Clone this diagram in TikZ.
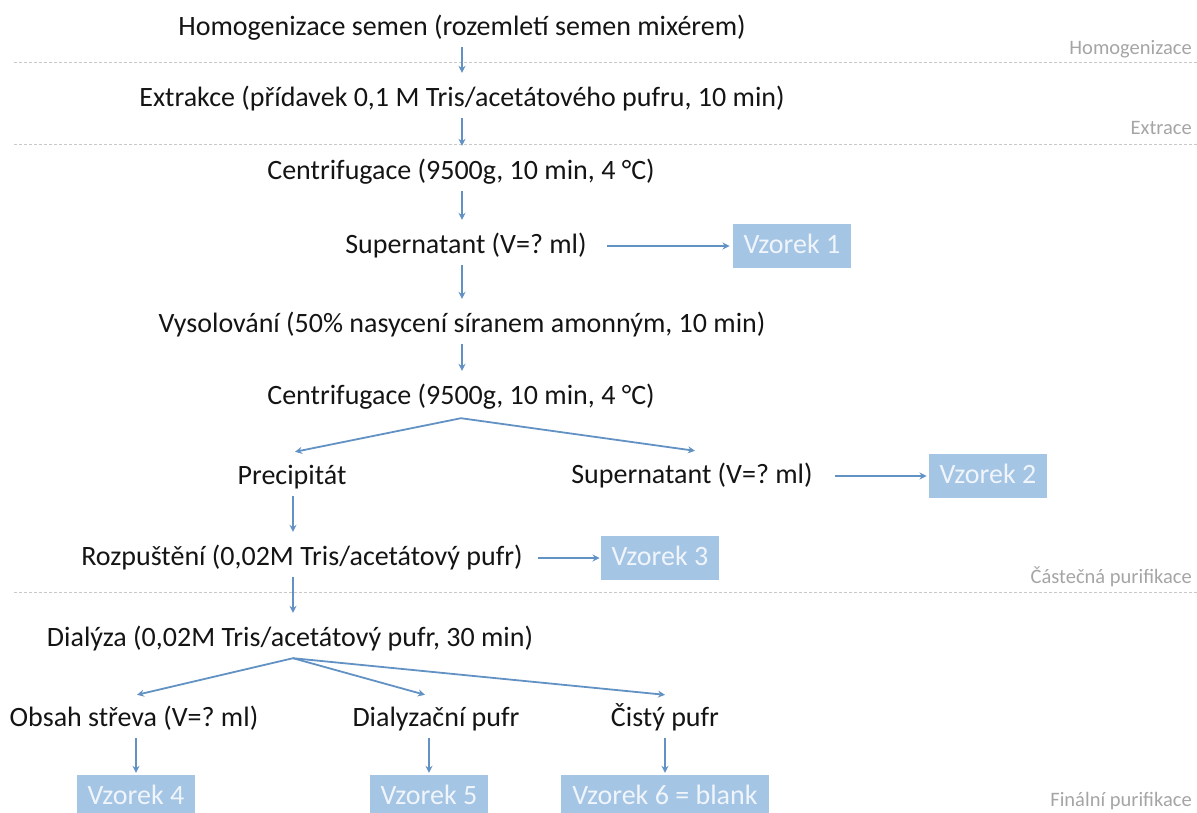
\documentclass[tikz,border=0pt]{standalone}
\usepackage{fontspec}
\setmainfont{Carlito}
\usetikzlibrary{arrows.meta}
\definecolor{arrowblue}{RGB}{98,146,196}
\definecolor{boxblue}{RGB}{165,197,229}
\definecolor{boxtext}{RGB}{240,245,251}
\definecolor{linegray}{RGB}{200,200,200}
\definecolor{labelgray}{RGB}{165,165,165}
\definecolor{txtblack}{RGB}{20,20,20}
\frenchspacing
\begin{document}
\begin{tikzpicture}[x=1pt,y=-1pt,
  txt/.style={font=\fontsize{28}{32}\selectfont, text=txtblack, inner sep=0pt, text height=21pt, text depth=7pt, anchor=center},
  sample/.style={font=\fontsize{28}{32}\selectfont, text=boxtext, fill=boxblue, inner xsep=11pt, inner ysep=0pt, text height=19pt, text depth=5pt, minimum height=44pt, anchor=center},
  phase/.style={font=\fontsize{20.5}{24}\selectfont, text=labelgray, inner sep=0pt, anchor=base east},
  dashline/.style={draw=linegray, line width=1pt, dash pattern=on 3pt off 2pt},
  arr/.style={draw=arrowblue, line width=1.8pt, -{Stealth[length=7pt,width=7pt]}},
  varr/.style={arr, shorten <=5pt, shorten >=12pt},
  barr/.style={arr, shorten <=5pt, shorten >=2pt}]
\useasboundingbox (0,0) rectangle (1197,812);
\clip (0,0) rectangle (1197,812);

% phase separators
\draw[dashline] (14,62) -- (1197,62);
\draw[dashline] (14,144) -- (1197,144);
\draw[dashline] (14,592) -- (1197,592);
\node[phase] (ph1) at (1192,54) {Homogenizace};
\node[phase] (ph2) at (1192,134) {Extrace};
\node[phase] (ph3) at (1192,583) {Částečná purifikace};
\node[phase] (ph4) at (1192,806) {Finální purifikace};

% steps
\node[txt] (t1) at (462,28) {Homogenizace semen (rozemletí semen mixérem)};
\node[txt] (t2) at (462,99) {Extrakce (přídavek 0,1 M Tris/acetátového pufru, 10 min)};
\node[txt] (t3) at (461,172) {Centrifugace (9500g, 10 min, 4 °C)};
\node[txt] (t4) at (466,246) {Supernatant (V=? ml)};
\node[txt] (t5) at (462,325) {Vysolování (50\% nasycení síranem amonným, 10 min)};
\node[txt] (t6) at (461,397) {Centrifugace (9500g, 10 min, 4 °C)};
\node[txt] (t7) at (292,477) {Precipitát};
\node[txt] (t8) at (692,476) {Supernatant (V=? ml)};
\node[txt] (t9) at (302,558) {Rozpuštění (0,02M Tris/acetátový pufr)};
\node[txt] (t10) at (290,639) {Dialýza (0,02M Tris/acetátový pufr, 30 min)};
\node[txt] (t11) at (134,719) {Obsah střeva (V=? ml)};
\node[txt] (t12) at (436,719) {Dialyzační pufr};
\node[txt] (t13) at (665,719) {Čistý pufr};

% samples
\node[sample] (v1) at (792,246) {Vzorek 1};
\node[sample] (v2) at (988,476) {Vzorek 2};
\node[sample] (v3) at (660,558) {Vzorek 3};
\node[sample] (v4) at (136,797) {Vzorek 4};
\node[sample] (v5) at (429,797) {Vzorek 5};
\node[sample] (v6) at (665,797) {Vzorek 6 = blank};

% vertical flow
\draw[varr] (t1.south) -- (t1.south |- t2.north);
\draw[varr] (t2.south) -- (t2.south |- t3.north);
\draw[varr] ([xshift=1pt]t3.south) -- ([xshift=1pt]t3.south |- t4.north);
\draw[varr] (t5.north |- t4.south) -- (t5.north);
\draw[varr] (t5.south) -- (t5.south |- t6.north);
\draw[varr] ([xshift=1pt]t7.south) -- ([xshift=1pt]t7.south |- t9.north);
\draw[varr] ([xshift=3pt]t10.north |- t9.south) -- ([xshift=3pt]t10.north);

% branches after centrifugation
\draw[arr] ([yshift=-7pt]t6.south) -- ([xshift=3pt,yshift=11pt]t7.north);
\draw[arr] ([yshift=-7pt]t6.south) -- ([xshift=3pt,yshift=11pt]t8.north);

% branches after dialysis
\draw[arr] ([xshift=3pt,yshift=-5pt]t10.south) -- ([xshift=3pt,yshift=10pt]t11.north);
\draw[arr] ([xshift=3pt,yshift=-5pt]t10.south) -- ([xshift=-11pt,yshift=10pt]t12.north);
\draw[arr] ([xshift=3pt,yshift=-5pt]t10.south) -- ([yshift=10pt]t13.north);

% side samples
\draw[arr] ([xshift=20pt]t4.east) -- ([xshift=-3pt]v1.west);
\draw[arr] ([xshift=22pt]t8.east) -- ([xshift=-2pt]v2.west);
\draw[arr] ([xshift=15pt]t9.east) -- ([xshift=-1pt]v3.west);

% final samples
\draw[barr] (t11.south -| v4.north) -- (v4.north);
\draw[barr] (t12.south -| v5.north) -- (v5.north);
\draw[barr] (t13.south -| v6.north) -- (v6.north);
\end{tikzpicture}
\end{document}
